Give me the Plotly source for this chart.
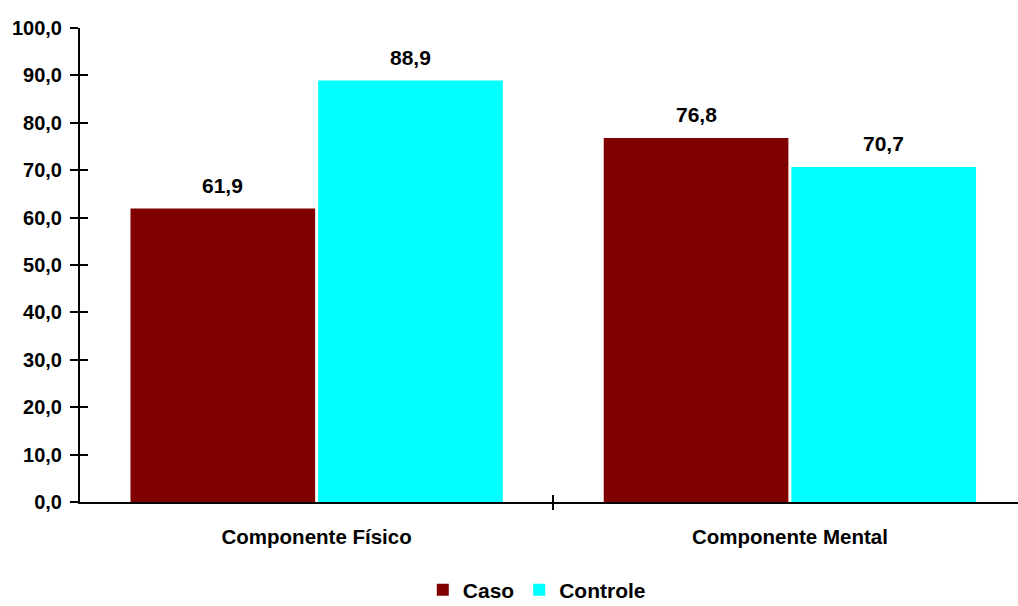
import plotly.graph_objects as go

categories = ["Componente Físico", "Componente Mental"]
caso = [61.9, 76.8]
controle = [88.9, 70.7]
y_ticks = [0, 10, 20, 30, 40, 50, 60, 70, 80, 90, 100]

BARGAP = 0.207
FONT = "Liberation Sans, Arial, sans-serif"
x_idx = list(range(len(categories)))
X_RANGE = [-0.5, 1.482]
divider = [i + 0.5 for i in x_idx[:-1]]

fig = go.Figure()
fig.add_trace(go.Bar(name="Caso", x=x_idx, y=caso, marker_color="#800000",
                     marker_line_width=0))
fig.add_trace(go.Bar(name="Controle", x=x_idx, y=controle, marker_color="#00FFFF",
                     marker_line_width=0))

# invisible helpers so that the overlay axes (crossing tick marks) are drawn
for xa, ya in (("x2", "y"), ("x3", "y"), ("x", "y2")):
    fig.add_trace(go.Scatter(x=[0], y=[0], xaxis=xa, yaxis=ya, mode="markers",
                             marker=dict(opacity=0), showlegend=False, hoverinfo="skip"))

half = (1 - BARGAP) / 4
for i in x_idx:
    for val, off in ((caso[i], -half), (controle[i], half)):
        fig.add_annotation(x=i + off, y=val, text=f"{val:.1f}".replace(".", ","),
                           showarrow=False, yanchor="middle", yshift=23,
                           font=dict(family=FONT, size=21, color="black", weight="bold"))

common_x = dict(range=X_RANGE, showgrid=False, zeroline=False, automargin=False)
fig.update_layout(
    width=1018, height=606,
    margin=dict(l=80, r=0, t=27.5, b=104, autoexpand=False),
    paper_bgcolor="white", plot_bgcolor="white",
    barmode="group", bargap=BARGAP, bargroupgap=0.016,
    separators=",.",
    font=dict(family=FONT, size=20, color="black", weight="bold"),
    showlegend=True,
    legend=dict(orientation="h", x=0.487, xanchor="center", y=-0.229, yanchor="bottom",
                font=dict(family=FONT, size=21, color="black", weight="bold"),
                itemwidth=30, tracegroupgap=0),
    xaxis=dict(tickvals=x_idx, ticktext=categories, ticks="",
               showline=True, linewidth=2, linecolor="black",
               tickfont=dict(size=20.5), ticklabelstandoff=15, **common_x),
    xaxis2=dict(overlaying="x", anchor="y", tickvals=divider,
                ticks="outside", ticklen=7, tickwidth=2, tickcolor="black",
                showticklabels=False, showline=False, **common_x),
    xaxis3=dict(overlaying="x", anchor="y", tickvals=divider,
                ticks="inside", ticklen=7, tickwidth=2, tickcolor="black",
                showticklabels=False, showline=False, **common_x),
    yaxis=dict(range=[0, 100], tickvals=y_ticks, tickformat=".1f", ticks="outside",
               ticklen=8, tickwidth=2, tickcolor="black", showline=True, linewidth=2,
               linecolor="black", showgrid=False, zeroline=False, ticklabelstandoff=4,
               automargin=False),
    yaxis2=dict(overlaying="y", anchor="x", range=[0, 100], tickvals=y_ticks,
                ticks="inside", ticklen=8, tickwidth=2, tickcolor="black",
                showticklabels=False, showline=False, showgrid=False, zeroline=False,
                automargin=False),
)

fig.write_html("out.html", config={"displayModeBar": False},
               post_script="document.body.style.margin='0';document.body.style.overflow='hidden';")
